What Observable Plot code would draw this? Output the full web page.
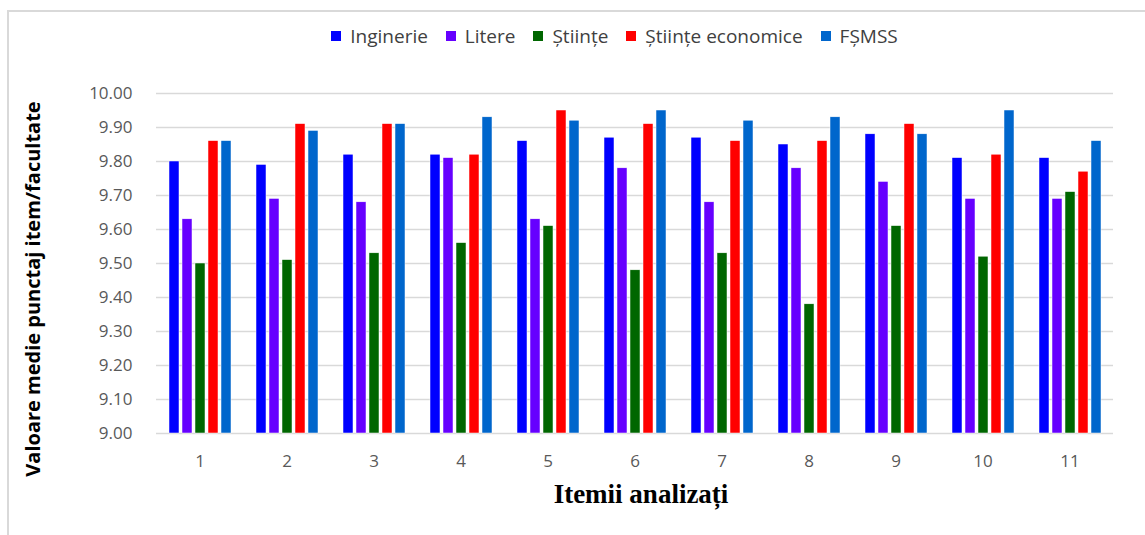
<!DOCTYPE html>
<html>
<head>
<meta charset="utf-8">
<script src="https://cdn.jsdelivr.net/npm/d3@7"></script>
<script src="https://cdn.jsdelivr.net/npm/@observablehq/plot@0.6"></script>
<style>
  html, body { margin: 0; padding: 0; background: #fff; }
  #wrap { position: relative; width: 1145px; height: 535px; overflow: hidden; font-family: "Open Sans", "Noto Sans", sans-serif; }
  #frame { position: absolute; left: 7px; top: 10px; width: 1200px; height: 600px; border-top: 2px solid #d9d9d9; border-left: 2px solid #d9d9d9; }
  #legend { position: absolute; left: 0; top: 23px; width: 1145px; display: flex; justify-content: center; padding-left: 84px; box-sizing: border-box; font-size: 19px; color: #404040; }
  #legend .item { display: flex; align-items: center; margin: 0 9px; }
  #legend .sw { width: 10px; height: 10px; margin-right: 9px; }
  #chart { position: absolute; left: 0; top: 60px; }
  #chart svg text { font-family: "Open Sans", "Noto Sans", sans-serif; }
</style>
</head>
<body>
<div id="wrap">
  <div id="frame"></div>
  <div id="legend"></div>
  <div id="chart"></div>
</div>
<script>
const items = ["1","2","3","4","5","6","7","8","9","10","11"];
const series = ["Inginerie","Litere","Științe","Științe economice","FȘMSS"];
const colors = ["#0000ff","#6600ff","#006600","#ff0000","#0066cc"];
const inginerie = [9.80, 9.79, 9.82, 9.82, 9.86, 9.87, 9.87, 9.85, 9.88, 9.81, 9.81];
const litere = [9.63, 9.69, 9.68, 9.81, 9.63, 9.78, 9.68, 9.78, 9.74, 9.69, 9.69];
const stiinte = [9.50, 9.51, 9.53, 9.56, 9.61, 9.48, 9.53, 9.38, 9.61, 9.52, 9.71];
const stiinteEconomice = [9.86, 9.91, 9.91, 9.82, 9.95, 9.91, 9.86, 9.86, 9.91, 9.82, 9.77];
const fsmss = [9.86, 9.89, 9.91, 9.93, 9.92, 9.95, 9.92, 9.93, 9.88, 9.95, 9.86];
const yTicks = [9.0, 9.1, 9.2, 9.3, 9.4, 9.5, 9.6, 9.7, 9.8, 9.9, 10.0];
const yTitle = "Valoare medie punctaj item/facultate";
const xTitle = "Itemii analizați";

const valuesBySeries = [inginerie, litere, stiinte, stiinteEconomice, fsmss];
const data = [];
items.forEach((it, i) => {
  series.forEach((s, j) => data.push({item: it, series: s, value: valuesBySeries[j][i]}));
});

// legend
const leg = document.getElementById("legend");
series.forEach((s, j) => {
  const d = document.createElement("div");
  d.className = "item";
  d.innerHTML = `<span class="sw" style="background:${colors[j]}"></span><span>${s}</span>`;
  leg.appendChild(d);
});

const chart = Plot.plot({
  width: 1145,
  height: 475,
  marginLeft: 152,
  marginRight: 28,
  marginTop: 33,
  marginBottom: 102,
  style: {fontSize: "17px", color: "#595959", background: "transparent"},
  fx: {domain: items, padding: 0},
  x: {domain: series, paddingInner: 0.26, paddingOuter: 0.875, axis: null},
  y: {domain: [9, 10]},
  color: {domain: series, range: colors},
  marks: [
    Plot.gridY(yTicks, {stroke: "#d9d9d9", strokeOpacity: 1, strokeWidth: 1.5}),
    Plot.barY(data, {fx: "item", x: "series", y1: 9, y2: "value", fill: "series", stroke: "#ffffff", strokeWidth: 0.5}),
    Plot.axisY(yTicks, {tickFormat: d3.format(".2f"), tickSize: 0, tickPadding: 24, label: null}),
    Plot.axisFx({anchor: "bottom", tickSize: 0, tickPadding: 21, label: null})
  ]
});
document.getElementById("chart").appendChild(chart);

// axis titles
const svg = d3.select(chart);
svg.append("text")
  .attr("transform", "translate(24," + (289 - 60) + ") rotate(-90)")
  .attr("text-anchor", "middle")
  .attr("dy", "0.78em")
  .style("font-family", "'Open Sans', 'Noto Sans', sans-serif")
  .style("font-weight", "bold")
  .style("font-size", "20px")
  .style("fill", "#000")
  .text(yTitle);
svg.append("text")
  .attr("transform", "translate(641," + (503 - 60) + ")")
  .attr("text-anchor", "middle")
  .style("font-family", "'Liberation Serif', 'Times New Roman', serif")
  .style("font-weight", "bold")
  .style("font-size", "27px")
  .style("fill", "#000")
  .text(xTitle);
</script>
</body>
</html>
